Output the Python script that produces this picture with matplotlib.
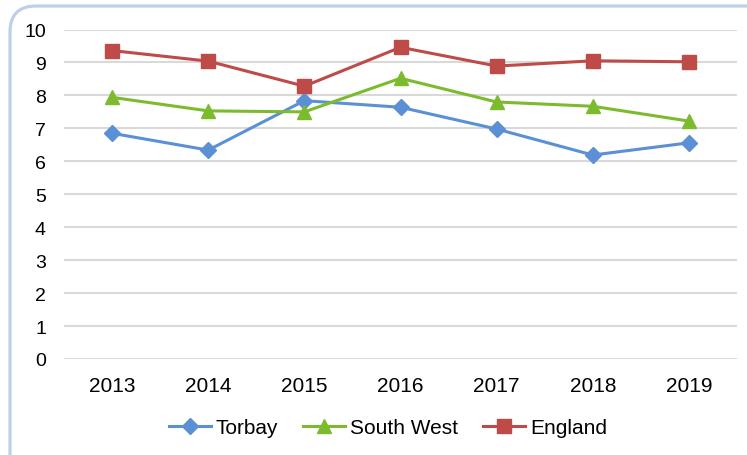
import matplotlib.pyplot as plt
from matplotlib.patches import FancyBboxPatch

plt.rcParams['font.family'] = ['Liberation Sans', 'DejaVu Sans']

years = ["2013", "2014", "2015", "2016", "2017", "2018", "2019"]
torbay = [6.85, 6.34, 7.84, 7.64, 6.98, 6.19, 6.56]
south_west = [7.94, 7.53, 7.50, 8.52, 7.80, 7.67, 7.22]
england = [9.36, 9.04, 8.28, 9.46, 8.89, 9.05, 9.02]

fig = plt.figure(figsize=(7.47, 4.56), dpi=100)

# background axes in pixel units for the rounded chart border (cut off right/bottom)
bg = fig.add_axes([0, 0, 1, 1], zorder=-1)
bg.set_xlim(0, 747)
bg.set_ylim(0, 456)
bg.axis("off")
bg.add_patch(FancyBboxPatch((10, -40), 780, 489, boxstyle="round,pad=0,rounding_size=26",
                            facecolor="white", edgecolor="#bed0e8", linewidth=2.3))

ax = fig.add_axes([64/747, 1 - 360/456, 673/747, 329.5/456])
ax.patch.set_alpha(0)
x = range(len(years))
ax.plot(x, torbay, color="#5b8fd6", lw=2.2, marker="D", ms=8.5, label="Torbay")
ax.plot(x, south_west, color="#7cbb2e", lw=2.2, marker="^", ms=10, label="South West")
ax.plot(x, england, color="#be4b48", lw=2.2, marker="s", ms=10, label="England")

ax.set_xlim(-0.5, 6.5)
ax.set_ylim(0, 10)
ax.set_yticks(range(0, 11))
ax.set_xticks(list(x))
ax.set_xticklabels(years)
ax.grid(axis="y", color="#d9d9d9", lw=1.5)
ax.set_axisbelow(True)
for s in ax.spines.values():
    s.set_visible(False)
ax.tick_params(length=0, colors="black")
ax.tick_params(axis="x", labelsize=15, pad=12)
ax.tick_params(axis="y", labelsize=14, pad=13)

fig.legend(loc="center", bbox_to_anchor=(388/747, 1 - 429/456), ncol=3, frameon=False,
           fontsize=15, handlelength=2.0, columnspacing=1.2, handletextpad=0.25)

fig.savefig("out.png", dpi=100)
